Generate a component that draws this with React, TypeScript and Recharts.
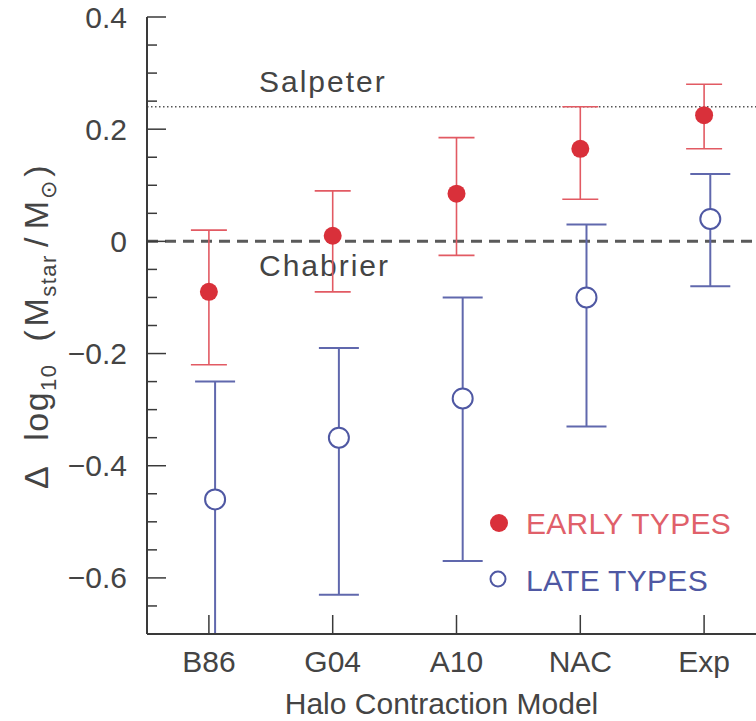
import React from "react";
import { ScatterChart, Scatter, XAxis, YAxis, ErrorBar, ReferenceLine, Legend } from "recharts";

// halo contraction models along the x axis
const models = ["B86", "G04", "A10", "NAC", "Exp"];
const modelPos = [0, 1, 2, 3, 4];

// early types (filled red)
const earlyValue = [-0.09, 0.01, 0.085, 0.165, 0.225];
const earlyLow = [-0.22, -0.09, -0.025, 0.075, 0.165];
const earlyHigh = [0.02, 0.09, 0.185, 0.24, 0.28];

// late types (open blue), drawn a little to the right of each model
const lateValue = [-0.46, -0.35, -0.28, -0.1, 0.04];
const lateLow = [-0.8, -0.63, -0.57, -0.33, -0.08];
const lateHigh = [-0.25, -0.19, -0.1, 0.03, 0.12];
const lateShift = 0.05;

const yTicks = [
  -0.7, -0.65, -0.6, -0.55, -0.5, -0.45, -0.4, -0.35, -0.3, -0.25, -0.2, -0.15, -0.1, -0.05,
  0, 0.05, 0.1, 0.15, 0.2, 0.25, 0.3, 0.35, 0.4,
];
const salpeter = 0.24;
const chabrier = 0;

const AXIS = "#3a3a3a";
const TEXT = "#444";
const RED = "#d9303a";
const RED_BAR = "#e25a63";
const RED_TEXT = "#e0606a";
const BLUE = "#4f58a3";
const BLUE_BAR = "#6068ad";
const FONT = "'Liberation Sans', Arial, sans-serif";

// plot box, used only to clip the error bars that run past the bottom axis
const PLOT = { x: 147, y: 17, w: 619, h: 617 };

const earlyData = modelPos.map((x, i) => ({
  x,
  y: earlyValue[i],
  err: [earlyValue[i] - earlyLow[i], earlyHigh[i] - earlyValue[i]],
}));
const lateData = modelPos.map((x, i) => ({
  x: x + lateShift,
  y: lateValue[i],
  err: [lateValue[i] - lateLow[i], lateHigh[i] - lateValue[i]],
}));

const isMajor = (v: number) => Math.abs(v * 5 - Math.round(v * 5)) < 1e-6;
const fmt = (v: number) => {
  if (Math.abs(v) < 1e-9) return "0";
  const s = Math.abs(v).toFixed(1);
  return v < 0 ? "\u2212" + s : s;
};

function LeftTick({ x, y, payload }: any) {
  const major = isMajor(payload.value);
  return (
    <g>
      <line x1={x} x2={x + (major ? 19 : 10)} y1={y} y2={y} stroke={AXIS} strokeWidth={1.5} />
      {major && (
        <text x={x - 20} y={y} textAnchor="end" dominantBaseline="central" fontSize={30} fontFamily={FONT} fill={TEXT}>
          {fmt(payload.value)}
        </text>
      )}
    </g>
  );
}

function RightTick({ x, y, payload }: any) {
  const major = isMajor(payload.value);
  return <line x1={x} x2={x - (major ? 19 : 10)} y1={y} y2={y} stroke={AXIS} strokeWidth={1.5} />;
}

function BottomTick({ x, y, payload }: any) {
  return (
    <g>
      <line x1={x} x2={x} y1={y} y2={y - 19} stroke={AXIS} strokeWidth={1.5} />
      <text x={x} y={y + 38} textAnchor="middle" fontSize={30} fontFamily={FONT} fill={TEXT}>
        {models[payload.value]}
      </text>
    </g>
  );
}

function TopTick({ x, y }: any) {
  return <line x1={x} x2={x} y1={y} y2={y + 19} stroke={AXIS} strokeWidth={1.5} />;
}

function YTitle() {
  const x = 48;
  const y = 489;
  return (
    <text
      x={x}
      y={y}
      transform={`rotate(-90, ${x}, ${y})`}
      fontSize={34}
      fontFamily={FONT}
      fill={TEXT}
      letterSpacing={1.5}
    >
      <tspan>Δ</tspan>
      <tspan dx={24}>log</tspan>
      <tspan fontSize={22} dy={8}>10</tspan>
      <tspan dx={22} dy={-8}>(</tspan>
      <tspan dx={2}>M</tspan>
      <tspan fontSize={22} dy={8}>star</tspan>
      <tspan dx={7} dy={-8}>/</tspan>
      <tspan dx={7}>M</tspan>
      <tspan fontSize={22} dy={8}>⊙</tspan>
      <tspan dx={3} dy={-8}>)</tspan>
    </text>
  );
}

function XTitle({ viewBox }: any) {
  return (
    <text
      x={viewBox.x + viewBox.width / 2 - 15}
      y={viewBox.y + 80}
      textAnchor="middle"
      fontSize={30}
      fontFamily={FONT}
      fill={TEXT}
    >
      Halo Contraction Model
    </text>
  );
}

function LegendBox() {
  return (
    <svg width={270} height={100} style={{ display: "block" }}>
      <circle cx={13} cy={23} r={9} fill={RED} />
      <text x={40} y={34} fontSize={30} fontFamily={FONT} fill={RED_TEXT} letterSpacing={0.3}>
        EARLY TYPES
      </text>
      <circle cx={12} cy={79} r={7.5} fill="#fff" stroke={BLUE} strokeWidth={2} />
      <text x={40} y={91} fontSize={30} fontFamily={FONT} fill={BLUE} letterSpacing={0.3}>
        LATE TYPES
      </text>
    </svg>
  );
}

export default function App() {
  return (
    <div style={{ position: "absolute", left: 0, top: 0, width: 756, height: 721, overflow: "hidden", background: "#fff" }}>
      <style>{`.recharts-errorBars { clip-path: url(#plot-clip); }`}</style>
      <svg width={0} height={0} style={{ position: "absolute" }}>
        <defs>
          <clipPath id="plot-clip" clipPathUnits="userSpaceOnUse">
            <rect x={PLOT.x} y={PLOT.y} width={PLOT.w} height={PLOT.h} />
          </clipPath>
        </defs>
      </svg>
      <ScatterChart width={780} height={721} margin={{ top: 17, right: 14, bottom: 0, left: 0 }}>
        <XAxis
          xAxisId="b"
          type="number"
          dataKey="x"
          domain={[-0.5, 4.5]}
          ticks={modelPos}
          interval={0}
          allowDataOverflow
          height={87}
          tickSize={0}
          tickMargin={0}
          tickLine={false}
          axisLine={{ stroke: AXIS, strokeWidth: 2 }}
          tick={<BottomTick />}
          label={<XTitle />}
        />
        <XAxis
          xAxisId="t"
          orientation="top"
          type="number"
          dataKey="x"
          domain={[-0.5, 4.5]}
          ticks={modelPos}
          interval={0}
          allowDataOverflow
          height={0}
          tickSize={0}
          tickMargin={0}
          tickLine={false}
          axisLine={{ stroke: AXIS, strokeWidth: 2 }}
          tick={<TopTick />}
        />
        <YAxis
          yAxisId="l"
          type="number"
          dataKey="y"
          domain={[-0.7, 0.4]}
          ticks={yTicks}
          interval={0}
          allowDataOverflow
          width={147}
          tickSize={0}
          tickMargin={0}
          tickLine={false}
          axisLine={{ stroke: AXIS, strokeWidth: 2 }}
          tick={<LeftTick />}
          label={<YTitle />}
        />
        <YAxis
          yAxisId="r"
          orientation="right"
          type="number"
          dataKey="y"
          domain={[-0.7, 0.4]}
          ticks={yTicks}
          interval={0}
          allowDataOverflow
          width={0}
          tickSize={0}
          tickMargin={0}
          tickLine={false}
          axisLine={{ stroke: AXIS, strokeWidth: 2 }}
          tick={<RightTick />}
        />
        <ReferenceLine
          xAxisId="b"
          yAxisId="l"
          y={salpeter}
          stroke="#555"
          strokeWidth={1.5}
          strokeDasharray="1.5 2.5"
          label={(p: any) => (
            <text x={p.viewBox.x + 112} y={p.viewBox.y - 15} fontSize={30} fontFamily={FONT} fill={TEXT} letterSpacing={2}>
              Salpeter
            </text>
          )}
        />
        <ReferenceLine
          xAxisId="b"
          yAxisId="l"
          y={chabrier}
          stroke="#5a5a5a"
          strokeWidth={3}
          strokeDasharray="11 7"
          label={(p: any) => (
            <text x={p.viewBox.x + 112} y={p.viewBox.y + 35} fontSize={30} fontFamily={FONT} fill={TEXT} letterSpacing={2}>
              Chabrier
            </text>
          )}
        />
        <Scatter
          name="EARLY TYPES"
          data={earlyData}
          xAxisId="b"
          yAxisId="l"
          isAnimationActive={false}
          shape={(p: any) => <circle cx={p.cx} cy={p.cy} r={9} fill={RED} />}
        >
          <ErrorBar dataKey="err" direction="y" width={18} stroke={RED_BAR} strokeWidth={1.6} />
        </Scatter>
        <Scatter
          name="LATE TYPES"
          data={lateData}
          xAxisId="b"
          yAxisId="l"
          isAnimationActive={false}
          shape={(p: any) => <circle cx={p.cx} cy={p.cy} r={10} fill="#fff" stroke={BLUE} strokeWidth={2} />}
        >
          <ErrorBar dataKey="err" direction="y" width={20} stroke={BLUE_BAR} strokeWidth={2} />
        </Scatter>
        <Legend
          layout="vertical"
          align="center"
          verticalAlign="middle"
          content={() => <LegendBox />}
          wrapperStyle={{ left: 486, top: 500, width: 270, height: 100 }}
        />
      </ScatterChart>
    </div>
  );
}
